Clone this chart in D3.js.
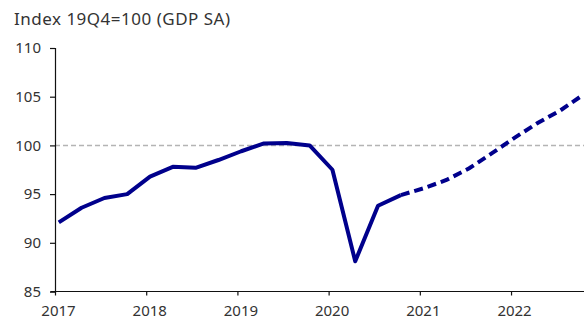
<!DOCTYPE html>
<html>
<head>
<meta charset="utf-8">
<script src="https://cdn.jsdelivr.net/npm/d3@7"></script>
<style>
  html, body { margin: 0; padding: 0; background: #fff; }
  svg { display: block; }
  text { font-family: "Noto Sans", "Open Sans", sans-serif; fill: #333; }
</style>
</head>
<body>
<svg id="chart" width="584" height="322"></svg>
<script>
// Quarterly GDP index, 2019Q4 = 100 (seasonally adjusted)
const actualQuarters = [
  "2017Q1","2017Q2","2017Q3","2017Q4",
  "2018Q1","2018Q2","2018Q3","2018Q4",
  "2019Q1","2019Q2","2019Q3","2019Q4",
  "2020Q1","2020Q2","2020Q3","2020Q4"
];
const actualValues = [
  92.1, 93.6, 94.6, 95.0,
  96.8, 97.8, 97.7, 98.5,
  99.4, 100.2, 100.25, 100.0,
  97.5, 88.1, 93.8, 94.9
];
// Forecast path, starting from the last actual quarter
const forecastQuarters = [
  "2020Q4",
  "2021Q1","2021Q2","2021Q3","2021Q4",
  "2022Q1","2022Q2","2022Q3","2022Q4"
];
const forecastValues = [
  94.9,
  95.6, 96.45, 97.65, 99.2,
  100.8, 102.3, 103.6, 105.2
];
const yTicks = [85, 90, 95, 100, 105, 110];
const xTicks = [2017, 2018, 2019, 2020, 2021, 2022];
const baseline = 100;
const titleText = "Index 19Q4=100 (GDP SA)";

const svg = d3.select("#chart");

// quarter label -> fractional year, plotted half a month into the quarter
const qTime = q => +q.slice(0, 4) + (+q.slice(5) - 1) / 4 + 1 / 24;

const x = d3.scaleLinear().domain([2017, 2022.8]).range([55, 584]);
const y = d3.scaleLinear().domain([85, 110]).range([291.5, 48]);

// title
svg.append("text")
  .attr("x", 14).attr("y", 25)
  .style("font-size", "17px")
  .style("letter-spacing", "0.5px")
  .text(titleText);

// reference line at 100
svg.append("line")
  .attr("x1", x(2017)).attr("x2", 584)
  .attr("y1", y(baseline)).attr("y2", y(baseline))
  .attr("stroke", "#b4b4b4")
  .attr("stroke-width", 1.5)
  .attr("stroke-dasharray", "5,3");

// y axis
const yAxis = svg.append("g")
  .attr("transform", `translate(${x(2017)},0)`)
  .call(d3.axisLeft(y).tickValues(yTicks).tickSize(5).tickPadding(9));
yAxis.select(".domain").attr("stroke", "#111").attr("stroke-width", 1.2);
yAxis.selectAll(".tick line").attr("stroke", "#111").attr("stroke-width", 1.2);
yAxis.selectAll(".tick text")
  .style("font-size", "15px")
  .style("font-family", "'Noto Sans', sans-serif")
  .attr("fill", "#333");

// x axis
const xAxis = svg.append("g")
  .attr("transform", `translate(0,${y(85)})`)
  .call(d3.axisBottom(x).tickValues(xTicks).tickFormat(d3.format("d"))
    .tickSize(4).tickPadding(10).tickSizeOuter(0));
xAxis.select(".domain").attr("stroke", "#111").attr("stroke-width", 1.2)
  .attr("d", `M${x(2017) - 4},0H584`);
xAxis.selectAll(".tick line").attr("stroke", "#111").attr("stroke-width", 1.2);
xAxis.selectAll(".tick text")
  .attr("dx", 3)
  .style("font-size", "15px")
  .style("font-family", "'Noto Sans', sans-serif")
  .attr("fill", "#333");

const line = d3.line()
  .x(d => x(qTime(d.q)))
  .y(d => y(d.v));

const actual = actualQuarters.map((q, i) => ({ q, v: actualValues[i] }));
const forecast = forecastQuarters.map((q, i) => ({ q, v: forecastValues[i] }));

svg.append("path")
  .datum(forecast)
  .attr("d", line)
  .attr("fill", "none")
  .attr("stroke", "#00008c")
  .attr("stroke-width", 4)
  .attr("stroke-dasharray", "9,5");

svg.append("path")
  .datum(actual)
  .attr("d", line)
  .attr("fill", "none")
  .attr("stroke", "#00008c")
  .attr("stroke-width", 4)
  .attr("stroke-linejoin", "round");
</script>
</body>
</html>
